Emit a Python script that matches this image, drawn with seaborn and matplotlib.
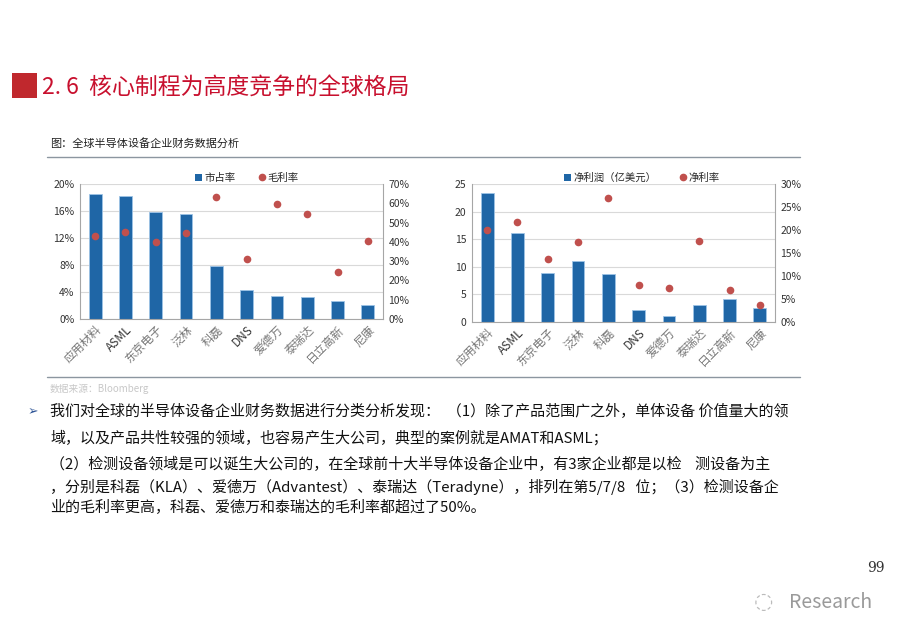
import matplotlib
matplotlib.use("Agg")
import matplotlib.pyplot as plt
import seaborn as sns
import pandas as pd
from matplotlib.ticker import PercentFormatter, MultipleLocator, FixedLocator
from matplotlib.lines import Line2D
from matplotlib.patches import Patch, Rectangle

# data
companies = ["应用材料", "ASML", "东京电子", "泛林", "科磊", "DNS", "爱德万", "泰瑞达", "日立高新", "尼康"]
market_share = [18.5, 18.2, 15.9, 15.5, 7.9, 4.3, 3.4, 3.3, 2.6, 2.1]
gross_margin = [43.0, 45.0, 40.0, 44.5, 63.0, 31.0, 59.5, 54.5, 24.5, 40.5]
net_profit = [23.3, 16.2, 8.8, 11.0, 8.7, 2.1, 1.0, 3.0, 4.1, 2.5]
net_margin = [20.0, 21.8, 13.6, 17.3, 27.0, 8.0, 7.3, 17.5, 7.0, 3.6]

sns.set_style("white")
plt.rcParams["font.family"] = ["Noto Sans CJK SC", "DejaVu Sans"]

BAR = "#1f66a6"
DOT = "#c0504d"
GRID = "#d9d9d9"
SPINE = "#a6a6a6"

W, H = 903, 639
fig = plt.figure(figsize=(W / 100, H / 100), dpi=100)


def px(x0, y0, x1, y1):
    return [x0 / W, 1 - y1 / H, (x1 - x0) / W, (y1 - y0) / H]


def panel(rect, bars, dots, bar_max, bar_step, bar_fmt, dot_max, dot_step, bar_label, dot_label, leg_x):
    df = pd.DataFrame({"company": companies, "bar": bars, "dot": dots})
    ax = fig.add_axes(rect)
    sns.barplot(data=df, x="company", y="bar", color=BAR, width=0.42, ax=ax,
                edgecolor="#9dc3e6", linewidth=0.6, saturation=1)
    ax.set_ylim(0, bar_max)
    ax.set_xlim(-0.5, len(companies) - 0.5)
    ax.yaxis.set_major_locator(MultipleLocator(bar_step))
    if bar_fmt:
        ax.yaxis.set_major_formatter(PercentFormatter(decimals=0))
    ax.grid(axis="y", color=GRID, linewidth=0.8)
    ax.set_axisbelow(True)
    ax.set_xlabel("")
    ax.set_ylabel("")
    ax.tick_params(axis="y", labelsize=7.5, length=0, pad=4, labelcolor="#333333")
    ax.tick_params(axis="x", which="major", length=0, labelsize=8.5, labelcolor="#777777", pad=3)
    ax.xaxis.set_minor_locator(FixedLocator([i + 0.5 for i in range(-1, len(companies))]))
    ax.tick_params(axis="x", which="minor", length=4, color=SPINE, width=0.8)
    for lab in ax.get_xticklabels():
        lab.set_rotation(45)
        lab.set_ha("right")
        lab.set_rotation_mode("anchor")
        if lab.get_text() in ("ASML", "DNS"):
            lab.set_color("#333333")
    for s in ["left", "bottom", "right"]:
        ax.spines[s].set_color(SPINE)
        ax.spines[s].set_linewidth(0.8)
    ax.spines["top"].set_visible(False)

    ax2 = ax.twinx()
    sns.stripplot(data=df, x="company", y="dot", jitter=False, color=DOT, size=5.5,
                  marker="o", ax=ax2, linewidth=0)
    ax2.set_xlim(-0.5, len(companies) - 0.5)
    ax2.set_ylim(0, dot_max)
    ax2.yaxis.set_major_locator(MultipleLocator(dot_step))
    ax2.yaxis.set_major_formatter(PercentFormatter(decimals=0))
    ax2.set_ylabel("")
    ax2.set_xlabel("")
    ax2.tick_params(axis="y", labelsize=7.5, length=0, pad=4, labelcolor="#333333")
    for s in ax2.spines.values():
        s.set_visible(False)

    handles = [Patch(facecolor=BAR, edgecolor="none"),
               Line2D([], [], marker="o", color=DOT, linestyle="none", markersize=4.5)]
    ax.legend(handles, [bar_label, dot_label], loc="center", bbox_to_anchor=(leg_x, 1.045),
              ncol=2, frameon=False, fontsize=7.5, handlelength=0.7, handletextpad=0.2,
              columnspacing=2.2, borderaxespad=0)
    return ax


panel(px(80, 184, 383, 319), market_share, gross_margin, 20, 4, True, 70, 10,
      "市占率", "毛利率", 0.55)
panel(px(472, 184, 775, 322), net_profit, net_margin, 25, 5, False, 30, 5,
      "净利润（亿美元）", "净利率", 0.56)

# header
fig.patches.append(Rectangle((12 / W, 1 - 98 / H), 25 / W, 25 / H, transform=fig.transFigure,
                             facecolor="#c0282d", edgecolor="none"))
fig.text(42 / W, 1 - 88 / H, "2. 6  核心制程为高度竞争的全球格局", fontsize=16.5, color="#c8102e", va="center")
fig.text(50 / W, 1 - 143 / H, "图：全球半导体设备企业财务数据分析", fontsize=8, color="#222222", va="center")
fig.add_artist(Line2D([47 / W, 800 / W], [1 - 157 / H, 1 - 157 / H], color="#8c96a0", linewidth=1))
fig.add_artist(Line2D([47 / W, 800 / W], [1 - 377 / H, 1 - 377 / H], color="#8c96a0", linewidth=1))
fig.text(50 / W, 1 - 389 / H, "数据来源：Bloomberg", fontsize=7, color="#c8c8c8", va="center")

# body text
fig.text(28 / W, 1 - 412 / H, "➢", fontsize=9, color="#2f5597", va="center", family=["DejaVu Sans"])
body = [
    (50, 412, "我们对全球的半导体设备企业财务数据进行分类分析发现：  （1）除了产品范围广之外，单体设备 价值量大的领"),
    (50, 438, "域，以及产品共性较强的领域，也容易产生大公司，典型的案例就是AMAT和ASML；"),
    (50, 464, "（2）检测设备领域是可以诞生大公司的，在全球前十大半导体设备企业中，有3家企业都是以检    测设备为主"),
    (50, 487, "，分别是科磊（KLA）、爱德万（Advantest）、泰瑞达（Teradyne），排列在第5/7/8   位；（3）检测设备企"),
    (50, 508, "业的毛利率更高，科磊、爱德万和泰瑞达的毛利率都超过了50%。"),
]
for x, y, t in body:
    fig.text(x / W, 1 - y / H, t, fontsize=10.8, color="#111111", va="center")

fig.text(885 / W, 1 - 568 / H, "99", fontsize=10, color="#333333", va="center", ha="right",
         family=["DejaVu Serif"])
fig.text(872 / W, 1 - 602 / H, "Research", fontsize=14, color="#9a9a9a", va="center", ha="right")
fig.text(763 / W, 1 - 602 / H, "◌", fontsize=16, color="#bbbbbb", va="center", ha="center",
         family=["DejaVu Sans"])

fig.savefig("out.png", dpi=100)
